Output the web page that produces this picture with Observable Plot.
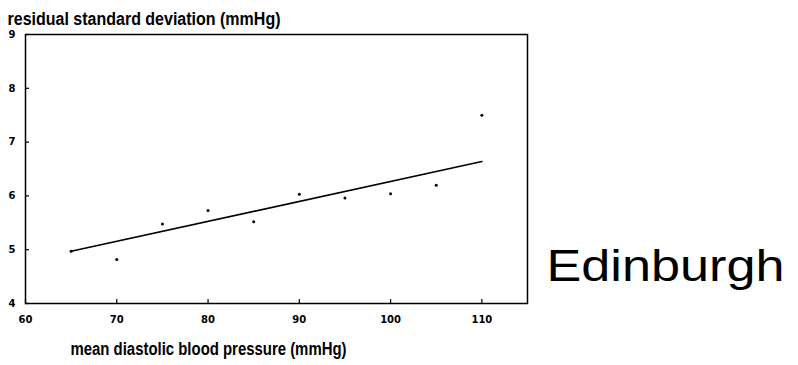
<!DOCTYPE html>
<html>
<head>
<meta charset="utf-8">
<script src="https://cdn.jsdelivr.net/npm/d3@7"></script>
<script src="https://cdn.jsdelivr.net/npm/@observablehq/plot@0.6"></script>
<style>
  html, body { margin: 0; padding: 0; background: #fff; }
  #chart svg { display: block; }
</style>
</head>
<body>
<div id="chart"></div>
<script>
// Mean diastolic blood pressure groups (mmHg) and residual SD (mmHg)
const pressure = [65, 70, 75, 80, 85, 90, 95, 100, 105, 110];
const residualSD = [4.97, 4.82, 5.48, 5.73, 5.52, 6.03, 5.96, 6.04, 6.2, 7.5];

// Fitted regression line, endpoints
const fitX = [65, 110];
const fitY = [4.97, 6.64];

const xTicks = [60, 70, 80, 90, 100, 110];
const yTicks = [4, 5, 6, 7, 8, 9];

const yTitle = "residual standard deviation (mmHg)";
const xTitle = "mean diastolic blood pressure (mmHg)";
const place = "Edinburgh";

const points = pressure.map((x, i) => ({x, y: residualSD[i]}));
const fit = fitX.map((x, i) => ({x, y: fitY[i]}));

const W = 798, H = 365;
const mL = 25, mR = 271, mT = 34, mB = 62;
const innerW = W - mL - mR, innerH = H - mT - mB;

const chart = Plot.plot({
  width: W,
  height: H,
  marginLeft: mL,
  marginRight: mR,
  marginTop: mT,
  marginBottom: mB,
  style: {fontFamily: "DejaVu Sans", fontWeight: "bold", fontSize: "10px", color: "#000", background: "#fff"},
  x: {domain: [60, 115], ticks: xTicks, tickFormat: "d", tickSize: 0, tickPadding: 12, label: null},
  y: {domain: [4, 9], ticks: yTicks, tickFormat: "d", tickSize: 0, tickPadding: 10, label: null},
  marks: [
    Plot.frame({stroke: "#000", strokeWidth: 1.5}),
    // short inward tick marks
    Plot.tickX(xTicks, {x: d => d, stroke: "#000", strokeWidth: 1.2, insetTop: innerH - 4}),
    Plot.tickY(yTicks, {y: d => d, stroke: "#000", strokeWidth: 1.2, insetRight: innerW - 4}),
    Plot.line(fit, {x: "x", y: "y", stroke: "#000", strokeWidth: 1.6}),
    Plot.dot(points, {x: "x", y: "y", r: 1.5, fill: "#000", stroke: null}),
    Plot.text([yTitle], {frameAnchor: "top-left", dx: -18, dy: -22, textAnchor: "start",
      fontSize: 18, fontWeight: "bold", fontFamily: "Liberation Sans", fill: "#000"}),
    Plot.text([xTitle], {frameAnchor: "bottom-left", dx: 183, dy: 51, textAnchor: "middle",
      fontSize: 18, fontWeight: "bold", fontFamily: "Liberation Sans", fill: "#000"}),
    Plot.text([place], {frameAnchor: "bottom-right", dx: 19, dy: -23, textAnchor: "start",
      fontSize: 44, fontWeight: "normal", fontFamily: "Liberation Sans", fill: "#000"})
  ]
});

// set the drawn widths of the three titles
const widths = new Map([[yTitle, 273], [xTitle, 276], [place, 238]]);
d3.select(chart).selectAll("text").each(function () {
  const w = widths.get(this.textContent);
  if (w) d3.select(this).attr("textLength", w).attr("lengthAdjust", "spacingAndGlyphs");
});

document.getElementById("chart").appendChild(chart);
</script>
</body>
</html>
